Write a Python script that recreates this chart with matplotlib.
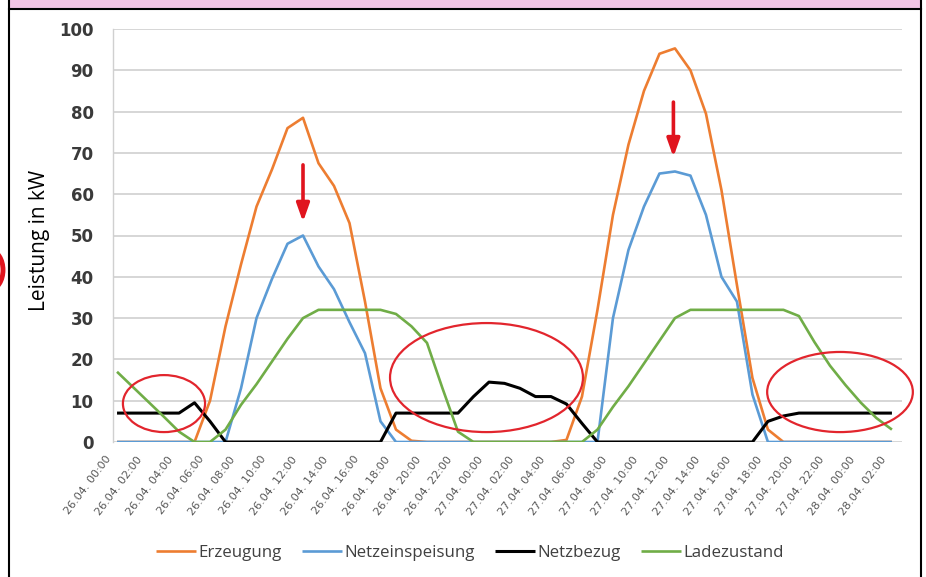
import numpy as np
import matplotlib
matplotlib.use("Agg")
import matplotlib.pyplot as plt
from matplotlib.patches import Ellipse, Rectangle
from matplotlib.lines import Line2D
from matplotlib.transforms import ScaledTranslation

# Hourly values from 26.04. 00:00 to 28.04. 02:00 (kW)
hours = np.arange(51)

erzeugung = [0, 0, 0, 0, 0, 0, 10, 28, 43, 57, 66, 76, 78.5, 67.5, 62, 53, 34, 13, 3, 0.3,
             0, 0, 0, 0, 0, 0, 0, 0, 0, 0.5, 11, 32, 55, 72, 85, 94, 95.3, 90, 79.5, 61,
             38, 15.5, 3, 0, 0, 0, 0, 0, 0, 0, 0]

netzeinspeisung = [0, 0, 0, 0, 0, 0, 0, 0, 13, 30, 39.5, 48, 50, 42.5, 37, 29, 21.5, 5, 0, 0,
                   0, 0, 0, 0, 0, 0, 0, 0, 0, 0, 0, 0, 30, 46.5, 57, 65, 65.5, 64.5, 55, 40,
                   34, 11.5, 0, 0, 0, 0, 0, 0, 0, 0, 0]

netzbezug = [7, 7, 7, 7, 7, 9.5, 5, 0, 0, 0, 0, 0, 0, 0, 0, 0, 0, 0, 7, 7,
             7, 7, 7, 11, 14.5, 14.2, 13, 11, 11, 9.2, 4.5, 0, 0, 0, 0, 0, 0, 0, 0, 0,
             0, 0, 5, 6.3, 7, 7, 7, 7, 7, 7, 7]

ladezustand = [17, 13.4, 9.8, 6.2, 2.5, 0, 0, 3, 9, 14, 19.5, 25, 30, 32, 32, 32, 32, 32, 31, 28,
               24, 13, 2.5, 0, 0, 0, 0, 0, 0, 0, 0, 3, 8.5, 13.5, 19, 24.5, 30, 32, 32, 32,
               32, 32, 32, 32, 30.5, 24.2, 18.5, 13.8, 9.5, 5.8, 3]

tick_labels = ["26.04. 00:00", "26.04. 02:00", "26.04. 04:00", "26.04. 06:00", "26.04. 08:00",
               "26.04. 10:00", "26.04. 12:00", "26.04. 14:00", "26.04. 16:00", "26.04. 18:00",
               "26.04. 20:00", "26.04. 22:00", "27.04. 00:00", "27.04. 02:00", "27.04. 04:00",
               "27.04. 06:00", "27.04. 08:00", "27.04. 10:00", "27.04. 12:00", "27.04. 14:00",
               "27.04. 16:00", "27.04. 18:00", "27.04. 20:00", "27.04. 22:00", "28.04. 00:00",
               "28.04. 02:00"]

W, H = 926, 577
fig = plt.figure(figsize=(W / 100, H / 100), dpi=100)
fig.patch.set_facecolor("white")

ax = fig.add_axes([113 / W, 1 - 442 / H, (902 - 113) / W, (442 - 29) / H])

series = [
    (erzeugung, "Erzeugung", "#ED7D31", 1.9),
    (netzeinspeisung, "Netzeinspeisung", "#5B9BD5", 1.9),
    (netzbezug, "Netzbezug", "#000000", 2.2),
    (ladezustand, "Ladezustand", "#70AD47", 1.9),
]
for vals, name, col, lw in series:
    ax.plot(hours, vals, color=col, lw=lw, label=name, solid_joinstyle="round",
            solid_capstyle="butt")

ax.set_ylim(0, 100)
ax.set_xlim(-0.26, 50.65)
ax.set_yticks(np.arange(0, 101, 10))
ax.yaxis.grid(True, color="#d0d0d0", lw=1.2)
ax.set_axisbelow(True)
for s in ("top", "right", "bottom"):
    ax.spines[s].set_visible(False)
ax.spines["left"].set_color("#d0d0d0")
ax.spines["left"].set_linewidth(1.0)

ax.tick_params(axis="y", length=0, pad=14, labelsize=12, labelcolor="#3a3a3a")
for lbl in ax.get_yticklabels():
    lbl.set_fontweight("bold")

ax.set_xticks(hours[::2])
ax.set_xticklabels(tick_labels, rotation=53, ha="right", va="center",
                   rotation_mode="anchor", fontsize=8, color="#595959")
ax.tick_params(axis="x", length=0, pad=11)
shift = ScaledTranslation(-8 / 100, 0, fig.dpi_scale_trans)
for lbl in ax.get_xticklabels():
    lbl.set_transform(lbl.get_transform() + shift)

# Annotations: arrows at the feed-in peaks and circled grid-supply periods
red = "#e0141e"
for xa, y0, y1 in [(12, 67.1, 53.3), (35.9, 82.3, 69.0)]:
    ax.annotate("", xy=(xa, y1), xytext=(xa, y0),
                arrowprops=dict(arrowstyle="-|>,head_length=0.9,head_width=0.32",
                                color=red, lw=2.6, mutation_scale=12,
                                shrinkA=0, shrinkB=0))
for cx, cy, ew, eh in [(3.03, 9.3, 5.3, 13.8), (23.84, 15.6, 12.45, 26.4),
                       (46.65, 12.1, 9.4, 19.4)]:
    ax.add_patch(Ellipse((cx, cy), ew, eh, fill=False, ec="#e2252d", lw=1.6,
                         clip_on=False, zorder=5))

# Axis title
fig.text(40 / W, 1 - 240 / H, "Leistung in kW", rotation=90, ha="center", va="center",
         fontsize=15, family="Open Sans", color="black")

# Legend
fig.legend(loc="center", bbox_to_anchor=(470 / W, 1 - 553 / H), ncol=4, frameon=False,
           prop={"family": "Open Sans", "size": 12.2}, labelcolor="#404040",
           handlelength=2.35, handletextpad=0.15, columnspacing=1.2)

# Page frame
fig.add_artist(Rectangle((9 / W, 1 - 9 / H), (921 - 9) / W, 12 / H,
                         transform=fig.transFigure, fc="#f2c4e4", ec="black", lw=1.5))
fig.add_artist(Line2D([9 / W, 9 / W], [0, 1 - 9 / H], transform=fig.transFigure,
                      color="black", lw=1.5))
fig.add_artist(Line2D([921 / W, 921 / W], [0, 1 - 9 / H], transform=fig.transFigure,
                      color="black", lw=1.5))
fig.add_artist(Ellipse((-9 / W, 1 - 270 / H), 24 / W, 38 / H, transform=fig.transFigure,
                       fill=False, ec=red, lw=3.5))

fig.savefig("out.png", dpi=100)
